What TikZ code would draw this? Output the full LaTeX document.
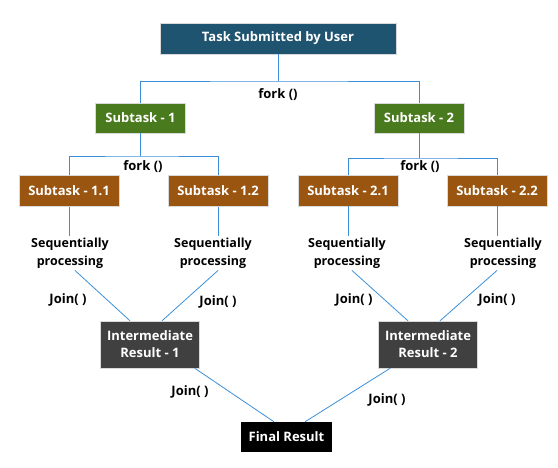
\documentclass[tikz,border=0pt]{standalone}
\usepackage{fontspec}
\setmainfont{Open Sans}
\begin{document}
\begin{tikzpicture}[x=1pt,y=-1pt,
  box/.style={draw=black!15, line width=0.4pt, text=white, font=\bfseries\fontsize{13}{15}\selectfont,
    minimum height=30pt, inner sep=2pt, align=center},
  topbox/.style={box, fill=topblue, minimum width=236pt, minimum height=31pt},
  subbox/.style={box, fill=subgreen, minimum width=90pt},
  leafbox/.style={box, fill=leafbrown, minimum width=100pt, minimum height=31pt},
  midbox/.style={box, fill=midgray, minimum width=99pt, minimum height=47pt, font=\bfseries\fontsize{13}{17}\selectfont},
  endbox/.style={box, draw=none, fill=black, minimum width=91pt},
  lbl/.style={font=\bfseries\fontsize{13}{15}\selectfont, inner sep=1pt},
  seq/.style={font=\bfseries\fontsize{12.5}{18}\selectfont, align=center, inner sep=2pt},
  link/.style={draw=linkblue, line width=0.8pt}
]
\definecolor{topblue}{HTML}{1F5470}
\definecolor{subgreen}{HTML}{4A7A1E}
\definecolor{leafbrown}{HTML}{9A5511}
\definecolor{midgray}{HTML}{404040}
\definecolor{linkblue}{HTML}{3A8FD8}
\useasboundingbox (0,0) rectangle (558,467);

% boxes
\node[topbox] (top) at (278,38.5) {Task Submitted by User};
\node[subbox] (s1) at (140.5,118) {Subtask - 1};
\node[subbox] (s2) at (419,118) {Subtask - 2};
\node[leafbox] (s11) at (69,191) {Subtask - 1.1};
\node[leafbox] (s12) at (218,191) {Subtask - 1.2};
\node[leafbox] (s21) at (348,190.5) {Subtask - 2.1};
\node[leafbox] (s22) at (497,190.5) {Subtask - 2.2};
\node[midbox] (ir1) at (150,344.5) {Intermediate\\Result - 1};
\node[midbox] (ir2) at (428,344.5) {Intermediate\\Result - 2};
\node[endbox] (fin) at (286.5,437) {Final Result};

% sequential processing steps
\node[seq] (q11) at (70,253) {Sequentially\\processing};
\node[seq] (q12) at (213,253) {Sequentially\\processing};
\node[seq] (q21) at (347,253) {Sequentially\\processing};
\node[seq] (q22) at (503,253) {Sequentially\\processing};

% fork branches
\coordinate (f0) at (278,81);
\coordinate (f1) at (140.5,156);
\coordinate (f2) at (419,158);
\draw[link] (top.south) -- (f0);
\draw[link] (s1.north) |- (f0) -| (s2.north);
\draw[link] (s1.south) -- (f1);
\draw[link] (s11.north) |- (f1) -| (s12.north);
\draw[link] (s2.south) -- (f2);
\draw[link] (s21.north) |- (f2) -| (s22.north);
\node[lbl] (fk0) at (278,95) {fork ()};
\node[lbl] (fk1) at (143,167) {fork ()};
\node[lbl] (fk2) at (420,167) {fork ()};

% subtasks into sequential processing
\draw[link] (s11.south) -- (q11.north -| s11.south);
\draw[link] (s12.south) -- (q12.north -| s12.south);
\draw[link] (s21.south) -- (q21.north -| s21.south);
\draw[link] (s22.south) -- (q22.north -| s22.south);

% joins
\draw[link] ([xshift=5pt]q11.south) -- ([xshift=-20pt]ir1.north);
\draw[link] ([xshift=5pt]q12.south) -- ([xshift=12pt]ir1.north);
\draw[link] ([xshift=5pt]q21.south) -- ([xshift=-20pt]ir2.north);
\draw[link] ([xshift=-6pt]q22.south) -- ([xshift=12pt]ir2.north);
\draw[link] ([xshift=-5pt]ir1.south east) -- ([xshift=-12.5pt]fin.north);
\draw[link] ([xshift=12pt]ir2.south west) -- ([xshift=18.5pt]fin.north);
\node[lbl] (j11) at (68,300) {Join( )};
\node[lbl] (j12) at (218,302) {Join( )};
\node[lbl] (j21) at (354,300) {Join( )};
\node[lbl] (j22) at (497,300) {Join( )};
\node[lbl] (j1) at (190,392) {Join( )};
\node[lbl] (j2) at (387,400) {Join( )};
\end{tikzpicture}
\end{document}
